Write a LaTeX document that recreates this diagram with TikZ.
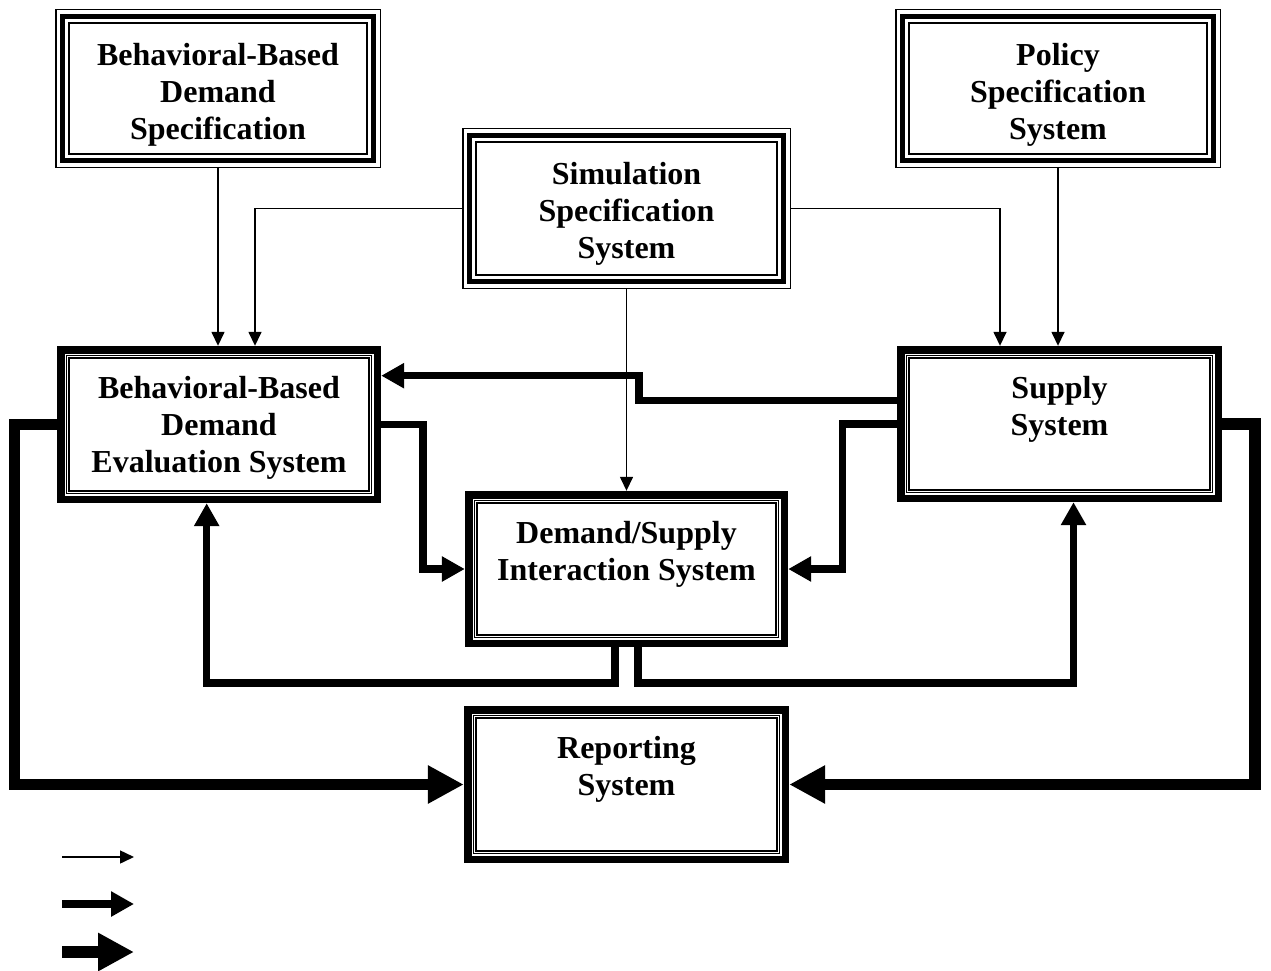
\documentclass[tikz,border=0pt]{standalone}
\usepackage{fontspec}
\setmainfont{Liberation Serif}
\usetikzlibrary{arrows.meta,calc}
\begin{document}
\begin{tikzpicture}[x=1pt,y=-1pt,
  box/.style={draw=none,inner sep=0pt,minimum width=#1},
  lbl/.style={anchor=north,inner sep=0pt,align=center,font=\bfseries\fontsize{32}{37}\selectfont},
  thinarrow/.style={line width=1.5pt,-{Triangle[length=14pt,width=13pt]}},
  medarrow/.style={line width=7.5pt,-{Triangle[length=23pt,width=24pt]}},
  bigarrow/.style={line width=11.5pt,-{Triangle[length=36pt,width=36pt]}},
  topthin/.style={line width=1.7pt},
  topthick/.style={line width=5.5pt},
  midthick/.style={line width=7.7pt},
  midthin/.style={line width=1.1pt}
]
\useasboundingbox (0,0) rectangle (1271,971);

% boxes
\node[box=326pt,minimum height=159pt] (bbds) at (218,88.5) {};
\node[box=329pt,minimum height=161pt] (sss) at (626.5,208.5) {};
\node[box=326pt,minimum height=159pt] (pss) at (1058,88.5) {};
\node[box=324pt,minimum height=157pt] (bbdes) at (219,424.5) {};
\node[box=325pt,minimum height=156pt] (supply) at (1059.5,424) {};
\node[box=323pt,minimum height=156pt] (dsis) at (626.5,569) {};
\node[box=325pt,minimum height=157pt] (rep) at (626.5,784.5) {};

\foreach \n in {bbds,sss,pss}{
  \draw[topthin] ([shift={(0.85pt,-0.85pt)}]\n.north west) rectangle ([shift={(-0.85pt,0.85pt)}]\n.south east);
  \draw[topthick] ([shift={(7.8pt,-7.8pt)}]\n.north west) rectangle ([shift={(-7.8pt,7.8pt)}]\n.south east);
  \draw[topthin] ([shift={(14.2pt,-14.2pt)}]\n.north west) rectangle ([shift={(-14.2pt,14.2pt)}]\n.south east);
}
\foreach \n in {bbdes,supply,dsis,rep}{
  \draw[midthick] ([shift={(3.85pt,-3.85pt)}]\n.north west) rectangle ([shift={(-3.85pt,3.85pt)}]\n.south east);
  \draw[midthin] ([shift={(9.8pt,-9.8pt)}]\n.north west) rectangle ([shift={(-9.8pt,9.8pt)}]\n.south east);
  \draw[midthin] ([shift={(12.2pt,-12.2pt)}]\n.north west) rectangle ([shift={(-12.2pt,12.2pt)}]\n.south east);
}

% labels
\node[lbl] (tbbds) at ([yshift=-34pt]bbds.north) {Behavioral-Based\\Demand\\Specification};
\node[lbl] (tsss) at ([yshift=-34pt]sss.north) {Simulation\\Specification\\System};
\node[lbl] (tpss) at ([yshift=-34pt]pss.north) {Policy\\Specification\\System};
\node[lbl] (tbbdes) at ([yshift=-30pt]bbdes.north) {Behavioral-Based\\Demand\\Evaluation System};
\node[lbl] (tsupply) at ([yshift=-30pt]supply.north) {Supply\\System};
\node[lbl] (tdsis) at ([yshift=-30pt]dsis.north) {Demand/Supply\\Interaction System};
\node[lbl] (trep) at ([yshift=-30pt]rep.north) {Reporting\\System};

% bend coordinates
\coordinate (c1) at (255,300);
\coordinate (c2) at (1000,300);
\coordinate (m1) at (639,388);
\coordinate (m2) at (423,500);
\coordinate (m3) at (842.7,500);
\coordinate (m4) at (400,683);
\coordinate (m5) at (850,683);
\coordinate (m6) at (14.5,600);
\coordinate (m7) at (1255,600);

% thin connectors
\draw[thinarrow] (bbds.south) -- (bbds.south |- bbdes.north);
\draw[thinarrow] (sss.west) -| (c1 |- bbdes.north);
\draw[thinarrow] (sss.east) -| (c2 |- supply.north);
\draw[thinarrow] (pss.south) -- (pss.south |- supply.north);
\draw[thinarrow] (sss.south) -- (dsis.north);

% medium connectors
\draw[medarrow] ([yshift=23.3pt]supply.west) -| (m1) |- ([yshift=48.8pt]bbdes.east);
\draw[medarrow] (bbdes.east) -| (m2) |- (dsis.west);
\draw[medarrow] (supply.west) -| (m3) |- (dsis.east);
\draw[medarrow] ([xshift=-11.5pt]dsis.south) |- (m4) -| ([xshift=-12.3pt]bbdes.south);
\draw[medarrow] ([xshift=11.5pt]dsis.south) |- (m5) -| ([xshift=14pt]supply.south);

% thick connectors
\draw[bigarrow] (bbdes.west) -| (m6) |- (rep.west);
\draw[bigarrow] (supply.east) -| (m7) |- (rep.east);

% legend
\coordinate (l1a) at (62,857); \coordinate (l1b) at (134,857);
\coordinate (l2a) at (62,904); \coordinate (l2b) at (134,904);
\coordinate (l3a) at (62,952); \coordinate (l3b) at (134,952);
\draw[thinarrow] (l1a) -- (l1b);
\draw[medarrow] (l2a) -- (l2b);
\draw[bigarrow] (l3a) -- (l3b);
\end{tikzpicture}
\end{document}
